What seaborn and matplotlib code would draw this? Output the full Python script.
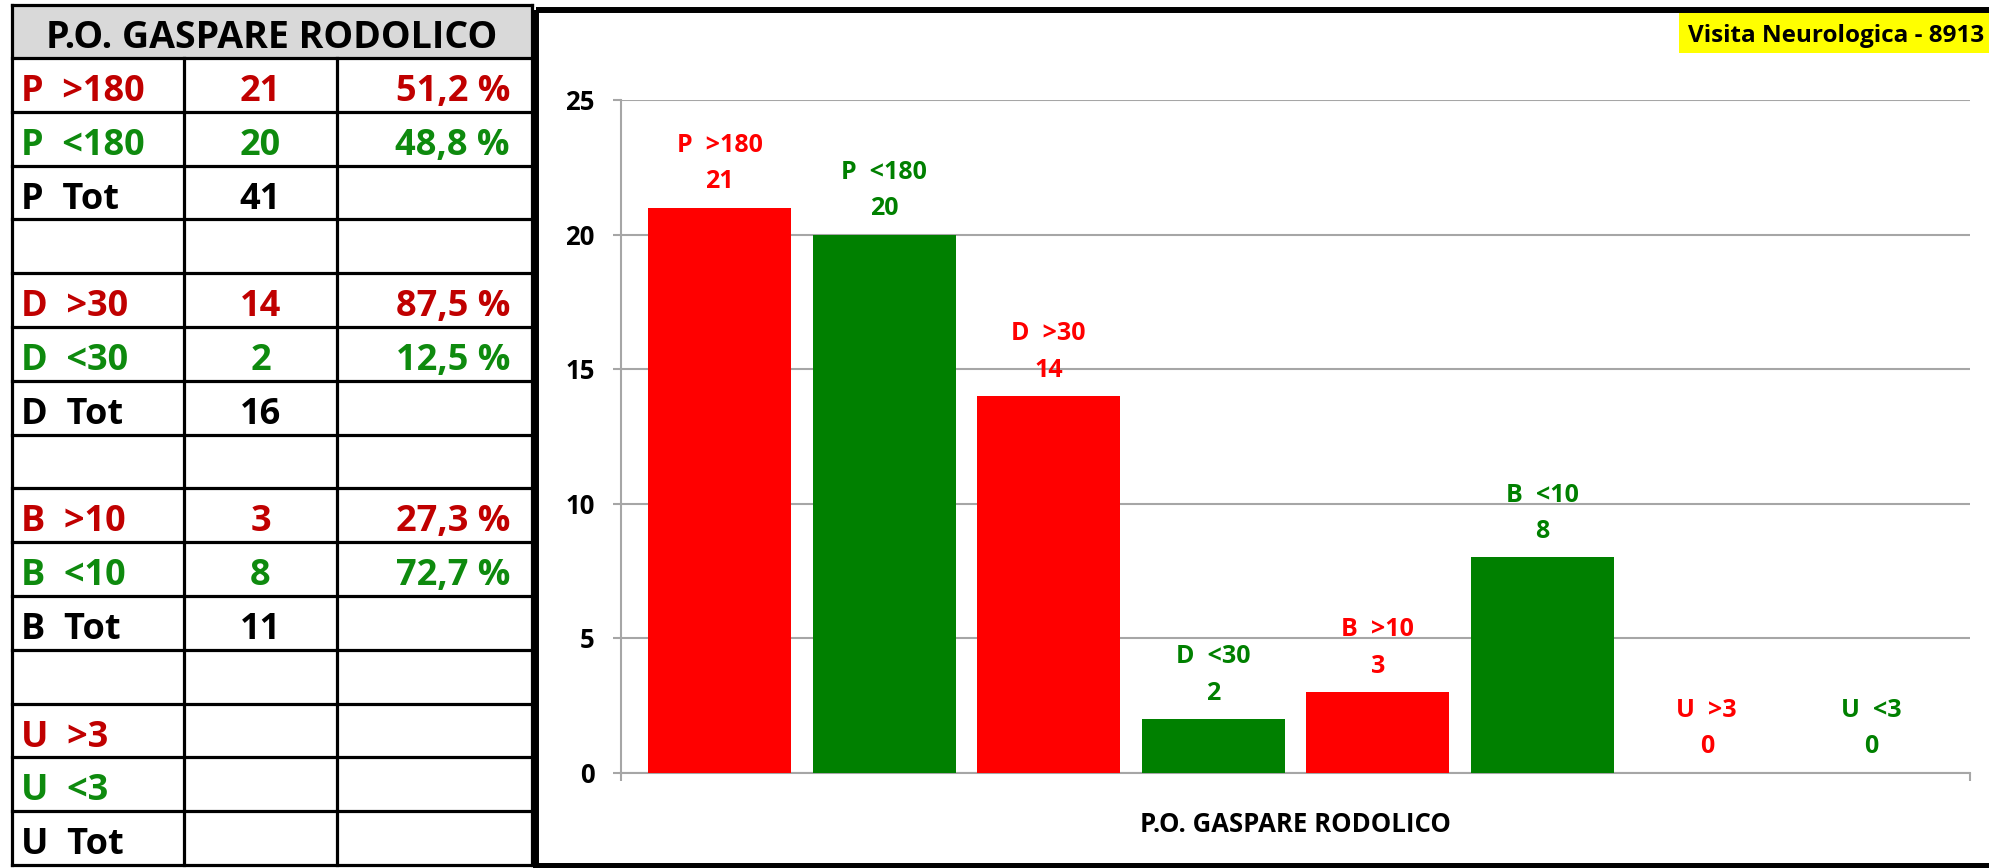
import matplotlib
matplotlib.use('Agg')
import pandas as pd
import matplotlib.pyplot as plt
import seaborn as sns
from matplotlib.patches import Rectangle

# chart data (one category, eight bars)
bar_labels = ['P  >180', 'P  <180', 'D  >30', 'D  <30', 'B  >10', 'B  <10', 'U  >3', 'U  <3']
bar_values = [21, 20, 14, 2, 3, 8, 0, 0]
bar_side = ['over', 'under', 'over', 'under', 'over', 'under', 'over', 'under']
y_ticks = [0, 5, 10, 15, 20, 25]
x_title = 'P.O. GASPARE RODOLICO'
badge_text = 'Visita Neurologica - 8913'

# side table
table_title = 'P.O. GASPARE RODOLICO'
table_names = ['P  >180', 'P  <180', 'P  Tot', '', 'D  >30', 'D  <30', 'D  Tot', '',
               'B  >10', 'B  <10', 'B  Tot', '', 'U  >3', 'U  <3', 'U  Tot']
table_counts = ['21', '20', '41', '', '14', '2', '16', '', '3', '8', '11', '', '', '', '']
table_pcts = ['51,2 %', '48,8 %', '', '', '87,5 %', '12,5 %', '', '',
              '27,3 %', '72,7 %', '', '', '', '', '']

bar_colors = {'over': '#FF0000', 'under': '#008000'}
table_colors = {'over': '#C00000', 'under': '#0E8A0E', 'tot': '#000000'}
FONT = ['Open Sans', 'DejaVu Sans']

W, H = 1989, 868
plt.rcParams['font.family'] = FONT
plt.rcParams['font.weight'] = 'bold'
fig = plt.figure(figsize=(W / 100, H / 100), dpi=100)

# background layer in pixel coordinates (table, frame, badge)
bg = fig.add_axes([0, 0, 1, 1])
bg.set_xlim(0, W)
bg.set_ylim(H, 0)
bg.axis('off')

tx0, tx1, cx1, cx2 = 12, 532, 184, 337
ty0, ty1, ty_end = 5, 58, 865
row_h = (ty_end - ty1) / len(table_names)

bg.add_patch(Rectangle((tx0, ty0), tx1 - tx0, ty1 - ty0, facecolor='#D9D9D9', edgecolor='none'))
lw_t = 2.3
for k in range(len(table_names) + 1):
    y = ty1 + k * row_h
    bg.plot([tx0, tx1], [y, y], color='black', lw=lw_t, solid_capstyle='projecting')
bg.plot([tx0, tx1], [ty0, ty0], color='black', lw=lw_t, solid_capstyle='projecting')
for x in (tx0, tx1):
    bg.plot([x, x], [ty0, ty_end], color='black', lw=lw_t, solid_capstyle='projecting')
for x in (cx1, cx2):
    bg.plot([x, x], [ty1, ty_end], color='black', lw=lw_t)

bg.text((tx0 + tx1) / 2, ty0 + 43, table_title, ha='center', va='baseline',
        fontsize=27, fontweight='bold', color='black')

for k, (name, cnt, pct) in enumerate(zip(table_names, table_counts, table_pcts)):
    if '>' in name:
        col = table_colors['over']
    elif '<' in name:
        col = table_colors['under']
    else:
        col = table_colors['tot']
    yb = ty1 + k * row_h + 0.8 * row_h
    bg.text(tx0 + 9, yb, name, ha='left', va='baseline', fontsize=26, fontweight='bold', color=col)
    bg.text((cx1 + cx2) / 2, yb, cnt, ha='center', va='baseline', fontsize=26, fontweight='bold', color=col)
    bg.text(tx1 - 22, yb, pct, ha='right', va='baseline', fontsize=26, fontweight='bold', color=col)

# chart frame
bg.add_patch(Rectangle((536, 10), 1480, 856, facecolor='none', edgecolor='black', lw=4.3))

# badge top right
bg.add_patch(Rectangle((1679, 13), 320, 40, facecolor='#FFFF00', edgecolor='none'))
bg.text(1688, 42, badge_text, ha='left', va='baseline', fontsize=17.5, fontweight='bold', color='black')

# bar chart
ax_l, ax_r, ax_b, ax_t = 621, 1970, 772.5, 100
ax = fig.add_axes([ax_l / W, 1 - ax_b / H, (ax_r - ax_l) / W, (ax_b - ax_t) / H])
ax.set_facecolor('none')

df = pd.DataFrame({'label': bar_labels, 'value': bar_values, 'side': bar_side})
sns.barplot(data=df, x='label', y='value', hue='side', order=bar_labels, palette=bar_colors,
            dodge=False, width=0.867, saturation=1, legend=False, ax=ax, zorder=3)

grid_c = '#A6A6A6'
ax.set_ylim(0, 25)
ax.set_yticks(y_ticks)
ax.set_yticklabels([str(v) for v in y_ticks], fontsize=18.5, fontweight='bold')
ax.set_xlim(-0.6, 7.6)
ax.set_xticks([-0.6, 7.6])
ax.set_xticklabels(['', ''])
ax.yaxis.grid(True, color=grid_c, lw=1.5, zorder=0)
ax.set_axisbelow(True)
for s in ('top', 'right'):
    ax.spines[s].set_visible(False)
for s in ('left', 'bottom'):
    ax.spines[s].set_color(grid_c)
    ax.spines[s].set_linewidth(1.5)
ax.tick_params(axis='both', direction='out', length=6, width=1.5, color=grid_c)
ax.tick_params(axis='y', pad=13)
ax.set_ylabel('')
ax.set_xlabel(x_title, fontsize=18.5, fontweight='bold', labelpad=18)

for i, (lab, v, side) in enumerate(zip(bar_labels, bar_values, bar_side)):
    ax.annotate(f'{lab}\n{v}', xy=(i, v), xytext=(0, 9.5), textcoords='offset points',
                ha='center', va='bottom', fontsize=18, fontweight='bold',
                color=bar_colors[side], linespacing=1.6)

plt.savefig('out.png', dpi=100)
